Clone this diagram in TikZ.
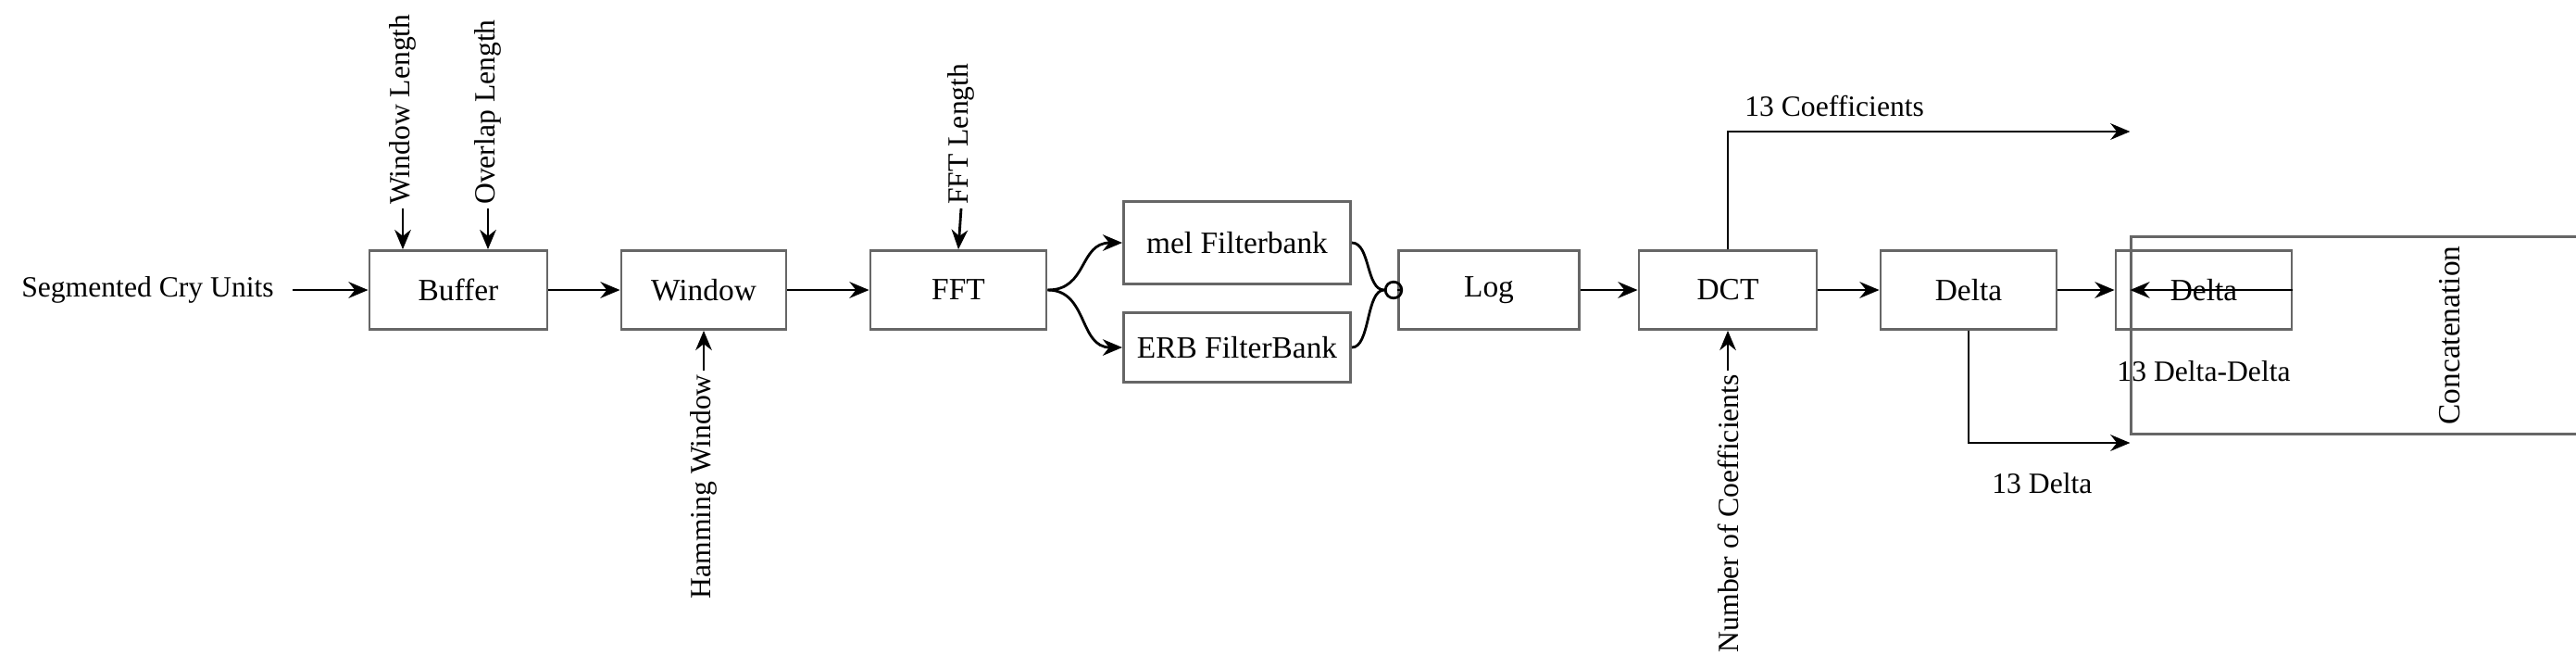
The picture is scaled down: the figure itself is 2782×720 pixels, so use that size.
\documentclass[tikz,border=0pt]{standalone}
\usepackage{fontspec}
\setmainfont{Liberation Serif}
\usetikzlibrary{arrows.meta,positioning}

\tikzset{
    blk/.style={draw=black!60,thick,minimum height=0.85cm,inner sep=0pt,font=\fontsize{9.5}{11}\selectfont},
    lbl/.style={inner sep=1pt,font=\fontsize{9}{11}\selectfont},
    flow/.style={-{Stealth[length=6pt,width=5pt]},thick}
}

\begin{document}
\begin{tikzpicture}[x=0.01cm,y=-0.01cm]
\useasboundingbox (0,0) rectangle (2782,720);

% blocks
\node[blk,minimum width=1.92cm] (buf) at (495,313) {Buffer};
\node[blk,minimum width=1.78cm] (win) at (760,313) {Window};
\node[blk,minimum width=1.90cm] (fft) at (1035,313) {FFT};
\node[blk,minimum width=2.45cm,minimum height=0.89cm] (mel) at (1336,262) {mel Filterbank};
\node[blk,minimum width=2.45cm,minimum height=0.75cm] (erb) at (1336,375) {ERB FilterBank};
\node[blk,minimum width=1.95cm] (log) at (1608,313) {Log};
\node[blk,minimum width=1.92cm] (dct) at (1866,313) {DCT};
\node[blk,minimum width=1.90cm] (d1) at (2126,313) {Delta};
\node[blk,minimum width=1.90cm] (d2) at (2380,313) {Delta};
\node[blk,minimum width=2.13cm,minimum height=6.88cm,rotate=90] (cat) at (2646,362) {Concatenation};

% inputs
\node[lbl,anchor=east] (seg) at (300,313) {Segmented Cry Units};
\draw[flow] (seg.east) ++(16,0) coordinate (s0) -- (buf.west);
\coordinate (wl) at (435,225);
\coordinate (ol) at (527,225);
\node[lbl,rotate=90,anchor=west] at (wl) {Window Length};
\node[lbl,rotate=90,anchor=west] at (ol) {Overlap Length};
\draw[flow] (wl) -- (wl |- buf.north);
\draw[flow] (ol) -- (ol |- buf.north);
\coordinate (hw) at (760,400);
\node[lbl,rotate=90,anchor=east] at (hw) {Hamming Window};
\draw[flow] (hw) -- (win.south);
\coordinate (fl) at (1038,225);
\node[lbl,rotate=90,anchor=west] at (fl) {FFT Length};
\draw[flow] (fl) -- (fft.north);
\coordinate (nc) at (1866,400);
\node[lbl,rotate=90,anchor=east] at (nc) {Number of Coefficients};
\draw[flow] (nc) -- (dct.south);

% main chain
\draw[flow] (buf) -- (win);
\draw[flow] (win) -- (fft);
\draw[flow] (fft.east) .. controls (1175,313) and (1165,262) .. (mel.west);
\draw[flow] (fft.east) .. controls (1175,313) and (1165,375) .. (erb.west);
\node[draw,circle,thick,inner sep=0pt,minimum size=5pt] (jn) at (1505,313) {};
\draw[thick] (mel.east) .. controls (1480,262) and (1475,313) .. (jn.west);
\draw[thick] (erb.east) .. controls (1480,375) and (1475,313) .. (jn.west);
\draw[thick] (jn) -- (log.west);
\draw[flow] (log) -- (dct);
\draw[flow] (dct) -- (d1);
\draw[flow] (d1) -- (d2);
\draw[flow] (d2.east) -- (d2.east -| cat.north);

% outputs to concatenation
\coordinate (c13) at (1866,142);
\draw[flow] (dct.north) -- (c13) -- (c13 -| cat.north);
\node[lbl,anchor=south west] at ([xshift=4]c13 |- 0,130) {13 Coefficients};
\coordinate (dd) at (2126,478);
\draw[flow] (d1.south) -- (dd) -- (dd -| cat.north);
\node[lbl,anchor=north west] at ([xshift=6,yshift=-8]dd) {13 Delta};
\node[lbl,below=8pt of d2] {13 Delta-Delta};
\end{tikzpicture}
\end{document}
